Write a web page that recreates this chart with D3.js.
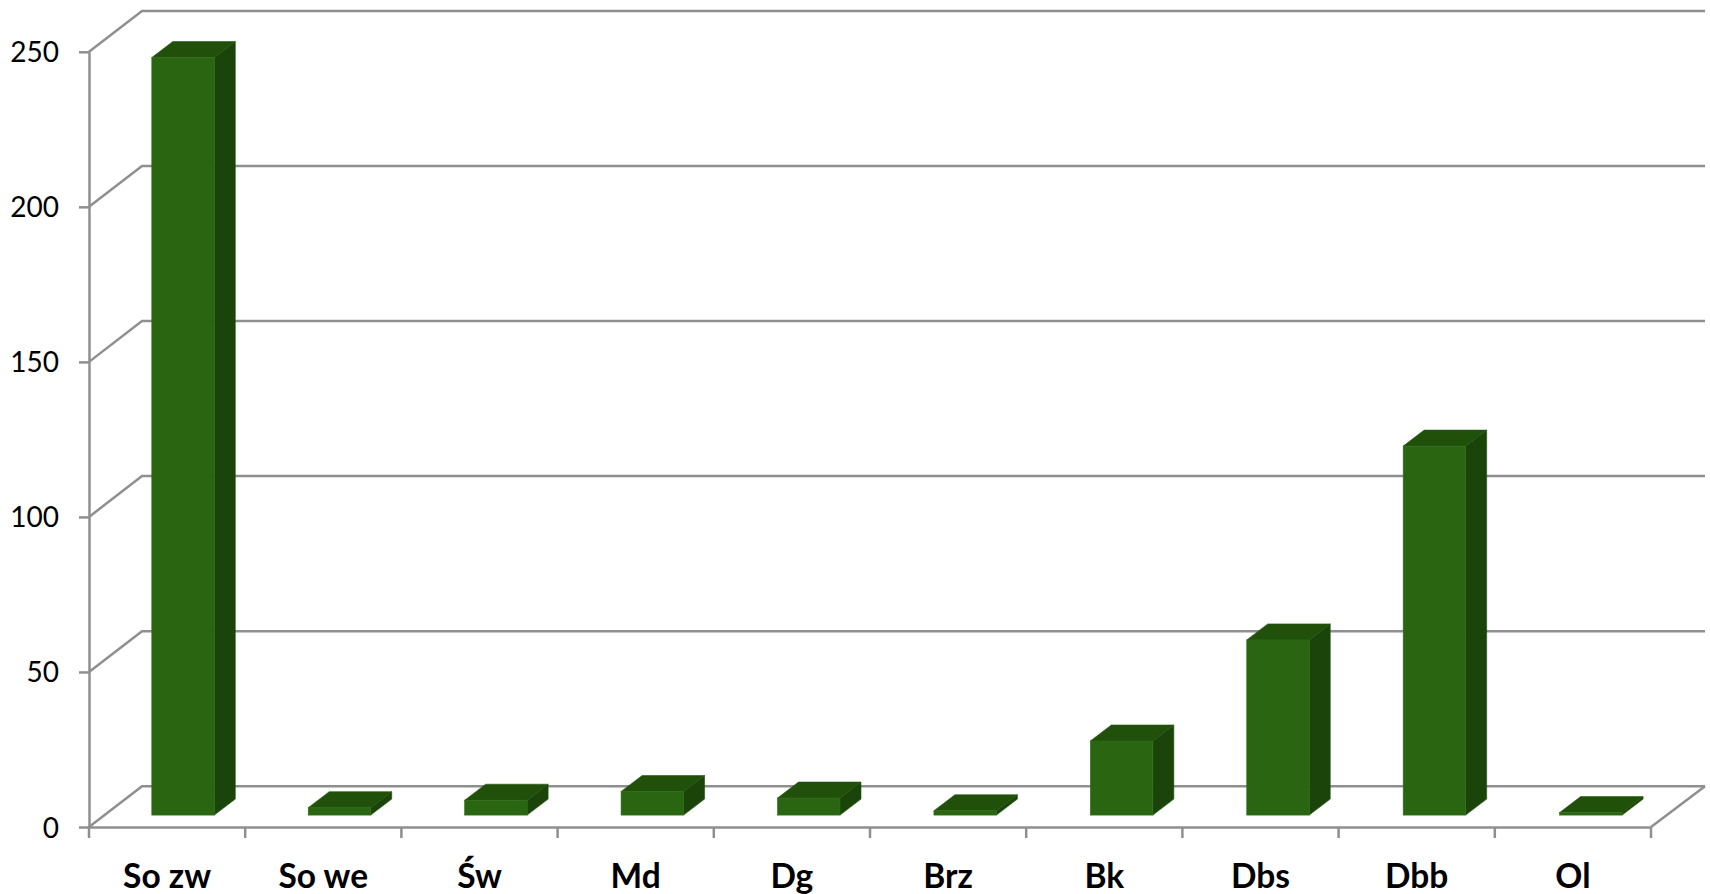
<!DOCTYPE html>
<html><head><meta charset="utf-8">
<script src="https://cdn.jsdelivr.net/npm/d3@7/dist/d3.min.js"></script>
<style>html,body{margin:0;padding:0;background:#fff;overflow:hidden}svg{display:block}</style>
</head><body><svg id="c" width="1710" height="894"></svg>
<script>
const categories = ["So zw","So we","Św","Md","Dg","Brz","Bk","Dbs","Dbb","Ol"];
const values = [244.3,2.4,4.8,7.6,5.5,1.4,23.9,56.5,119,0.8];
const yTicks = [0,50,100,150,200,250];

const svg=d3.select("#c");
const x0=89,x1=1651,yB=827,yT=51.8,dx=53,dy=40.8;
const barW=62.5,bx=21,by=16,lift=11.9;
const gridC="#8f8f8f",lw=2.5;
const font="Lato, Carlito, sans-serif";

const x=d3.scaleBand().domain(categories).range([x0,x1]);
const xBar=d3.scalePoint().domain(categories).range([151.8,1559.6]);
const y=d3.scaleLinear().domain([0,250]).range([yB,yT]);

// back wall gridlines and left wall diagonals
const back=svg.append("g").attr("fill","none").attr("stroke",gridC).attr("stroke-width",lw);
back.selectAll("path.g").data(yTicks).join("path").attr("class","g")
  .attr("d",d=>`M${x0},${y(d)}L${x0+dx},${y(d)-dy}L${x1+dx+1},${y(d)-dy}`);
back.append("path").attr("d",`M${x1},${yB}L${x1+dx+1},${yB-dy}`);

// axes
const axY=svg.append("g").attr("transform",`translate(${x0},0)`)
  .call(d3.axisLeft(y).tickValues(yTicks).tickSize(10).tickSizeOuter(0).tickPadding(0));
axY.selectAll("path,line").attr("stroke",gridC).attr("stroke-width",lw);
axY.selectAll("text").attr("font-family",font).attr("font-size",28).attr("fill","#000")
  .attr("x",-30).attr("dy",10).attr("text-anchor","end");

const axX=svg.append("g").attr("transform",`translate(0,${yB})`)
  .call(d3.axisBottom(x).tickSize(0).tickSizeOuter(0).tickPadding(0));
axX.select("path").attr("stroke",gridC).attr("stroke-width",lw);
axX.selectAll("text").attr("font-family",font).attr("font-size",33.5).attr("font-weight",700)
  .attr("fill","#000").attr("y",60.5).attr("dy",0);
const edges=categories.map(c=>x(c)).concat([x1]);
svg.append("g").selectAll("line").data(edges).join("line")
  .attr("x1",d=>d).attr("x2",d=>d).attr("y1",yB).attr("y2",yB+11)
  .attr("stroke",gridC).attr("stroke-width",lw);

// bars
const rows=categories.map((c,i)=>({c,v:values[i]}));
const bars=svg.append("g").selectAll("g").data(rows).join("g");
const base=y(0)-lift;
const top_=d=>y(d.v)-lift;
bars.append("path").attr("fill","#1a440a").attr("stroke","#1f4f0b").attr("stroke-width",.6)
  .attr("d",d=>{const l=xBar(d.c)+barW;return `M${l},${top_(d)}L${l+bx},${top_(d)-by}L${l+bx},${base-by}L${l},${base}Z`;});
bars.append("path").attr("fill","#205009").attr("stroke","#245610").attr("stroke-width",.6)
  .attr("d",d=>{const l=xBar(d.c),t=top_(d);return `M${l},${t}L${l+bx},${t-by}L${l+bx+barW},${t-by}L${l+barW},${t}Z`;});
bars.append("rect").attr("fill","#2a6612").attr("stroke","#2f6e17").attr("stroke-width",.6)
  .attr("x",d=>xBar(d.c)).attr("y",top_).attr("width",barW).attr("height",d=>base-top_(d));
</script></body></html>
